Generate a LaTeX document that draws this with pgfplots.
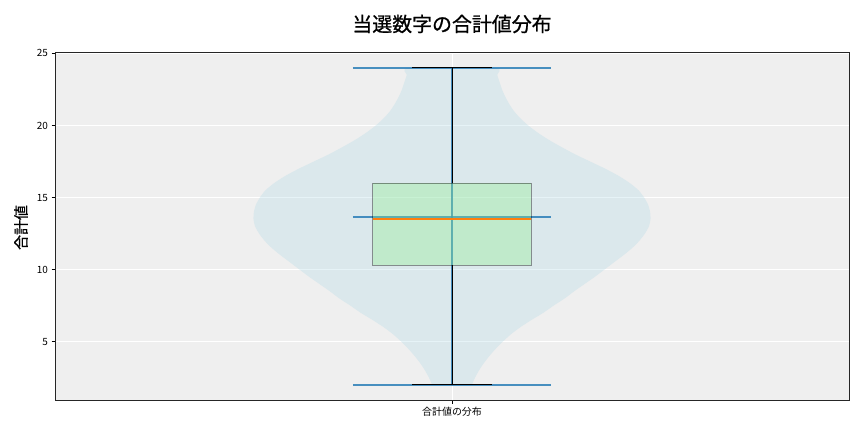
\documentclass[border=0pt]{standalone}
\usepackage{fontspec}
\setmainfont{Noto Sans CJK JP}
\newfontfamily\titlefont[FakeBold=0.9]{Noto Sans CJK JP}
\usepackage{pgfplots}
\pgfplotsset{compat=1.18}
\definecolor{bg}{RGB}{239,239,239}
\definecolor{violinc}{RGB}{173,216,230}
\definecolor{boxc}{RGB}{144,238,144}
\definecolor{cblue}{RGB}{31,119,180}
\definecolor{corange}{RGB}{255,127,14}
\begin{document}
\begin{tikzpicture}
\useasboundingbox (0,0) rectangle (864bp,432bp);
\begin{axis}[
  at={(55bp,32bp)}, anchor=south west,
  scale only axis, width=794bp, height=347.3bp,
  xmin=0.5, xmax=1.5, ymin=0.95, ymax=25.05,
  axis background/.style={fill=bg},
  grid=major, major grid style={white, line width=1bp},
  xtick={1}, xticklabels={合計値の分布},
  ytick={5,10,15,20,25},
  tick align=outside, tick pos=left,
  major tick length=3.5bp,
  tick style={black, line width=0.8bp},
  ticklabel style={font=\fontsize{10}{12}\selectfont},
  /pgf/number format/assume math mode=true,
  axis line style={black!85, line width=0.8bp},
]
% violin body
\addplot[draw=none, fill=violinc, fill opacity=0.3, smooth, tension=0.4] coordinates {
(1.025,2.0)(1.029,2.5)(1.034,3.0)(1.040,3.5)(1.047,4.0)(1.055,4.5)(1.064,5.0)(1.074,5.5)(1.086,6.0)(1.100,6.5)(1.115,7.0)(1.128,7.5)(1.142,8.0)(1.154,8.5)(1.167,9.0)(1.180,9.5)(1.192,10.0)(1.204,10.5)(1.216,11.0)(1.227,11.5)(1.236,12.0)(1.243,12.5)(1.248,13.0)(1.250,13.5)(1.2495,14.0)(1.247,14.5)(1.242,15.0)(1.235,15.5)(1.224,16.0)(1.210,16.5)(1.193,17.0)(1.174,17.5)(1.155,18.0)(1.138,18.5)(1.122,19.0)(1.108,19.5)(1.096,20.0)(1.086,20.5)(1.078,21.0)(1.072,21.5)(1.067,22.0)(1.063,22.5)(1.060,23.0)(1.057,23.5)(1.054,24.0)
(0.946,24.0)(0.943,23.5)(0.940,23.0)(0.937,22.5)(0.933,22.0)(0.928,21.5)(0.922,21.0)(0.914,20.5)(0.904,20.0)(0.892,19.5)(0.878,19.0)(0.862,18.5)(0.845,18.0)(0.826,17.5)(0.807,17.0)(0.790,16.5)(0.776,16.0)(0.765,15.5)(0.758,15.0)(0.753,14.5)(0.7505,14.0)(0.750,13.5)(0.752,13.0)(0.757,12.5)(0.764,12.0)(0.773,11.5)(0.784,11.0)(0.796,10.5)(0.808,10.0)(0.820,9.5)(0.833,9.0)(0.846,8.5)(0.858,8.0)(0.872,7.5)(0.885,7.0)(0.900,6.5)(0.914,6.0)(0.926,5.5)(0.936,5.0)(0.945,4.5)(0.953,4.0)(0.960,3.5)(0.966,3.0)(0.971,2.5)(0.975,2.0)
} -- cycle;
% violin lines
\addplot[cblue, draw opacity=0.8, line width=1.8bp] coordinates {(1,2)(1,24)};
\addplot[cblue, draw opacity=0.8, line width=1.8bp] coordinates {(0.875,2)(1.125,2)};
\addplot[cblue, draw opacity=0.8, line width=1.8bp] coordinates {(0.875,24)(1.125,24)};
\addplot[cblue, draw opacity=0.8, line width=1.8bp] coordinates {(0.875,13.67)(1.125,13.67)};
% box
\addplot[fill=boxc, fill opacity=0.35, draw=black, draw opacity=0.4, line width=0.9bp] coordinates {(0.9,10.3)(1.1,10.3)(1.1,16)(0.9,16)} -- cycle;
\addplot[corange, line width=1.3bp] coordinates {(0.9,13.5)(1.1,13.5)};
% whiskers and caps
\addplot[black, line width=1bp] coordinates {(1,2)(1,10.3)};
\addplot[black, line width=1bp] coordinates {(1,16)(1,24)};
\addplot[black, line width=1bp] coordinates {(0.95,2)(1.05,2)};
\addplot[black, line width=1bp] coordinates {(0.95,24)(1.05,24)};
\end{axis}
\node[font=\fontsize{20}{24}\selectfont\titlefont] at (452bp,408bp) {当選数字の合計値分布};
\node[rotate=90, font=\fontsize{15}{18}\selectfont\titlefont] at (21bp,204.5bp) {合計値};
\end{tikzpicture}
\end{document}
